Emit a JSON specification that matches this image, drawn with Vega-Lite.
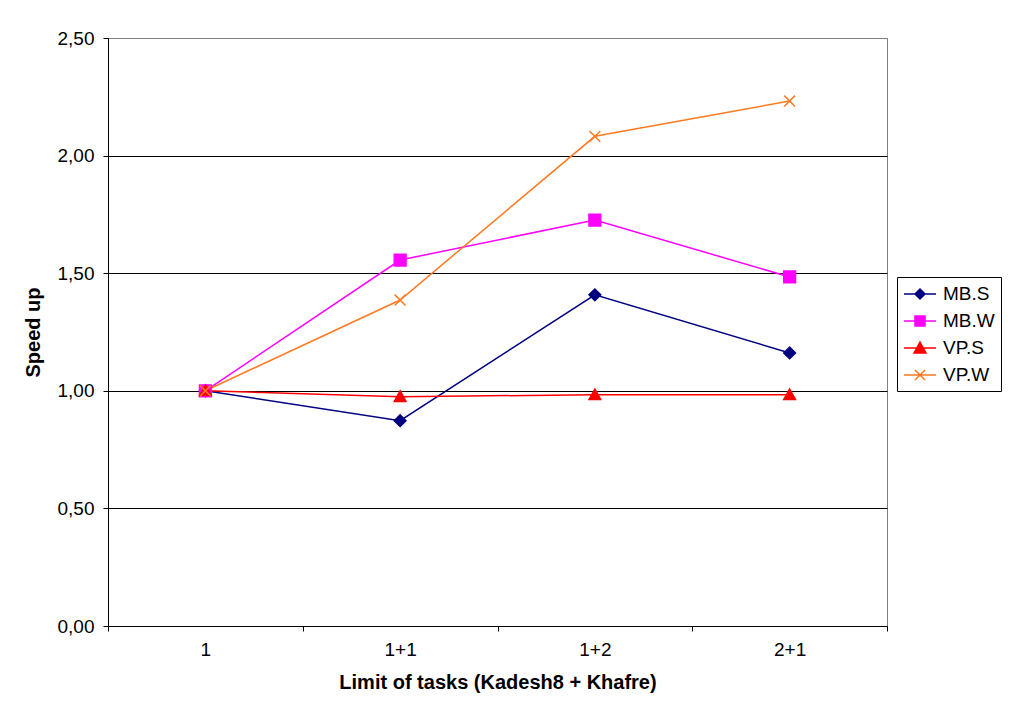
{
  "$schema": "https://vega.github.io/schema/vega-lite/v6.json",
  "autosize": {"type": "none"},
  "width": 779,
  "height": 588,
  "padding": {"left": 108, "top": 38, "right": 130, "bottom": 83},
  "background": "white",
  "config": {
    "font": "Liberation Sans",
    "view": {"stroke": "#808080", "strokeWidth": 1},
    "axis": {"labelFont": "Liberation Sans", "titleFont": "Liberation Sans", "labelColor": "#000", "titleColor": "#000"}
  },
  "data": {
    "values": [
      {"task": "1", "series": "MB.S", "speedup": 1.0},
      {"task": "1+1", "series": "MB.S", "speedup": 0.873},
      {"task": "1+2", "series": "MB.S", "speedup": 1.408},
      {"task": "2+1", "series": "MB.S", "speedup": 1.161},
      {"task": "1", "series": "MB.W", "speedup": 1.0},
      {"task": "1+1", "series": "MB.W", "speedup": 1.556},
      {"task": "1+2", "series": "MB.W", "speedup": 1.726},
      {"task": "2+1", "series": "MB.W", "speedup": 1.484},
      {"task": "1", "series": "VP.S", "speedup": 1.0},
      {"task": "1+1", "series": "VP.S", "speedup": 0.975},
      {"task": "1+2", "series": "VP.S", "speedup": 0.983},
      {"task": "2+1", "series": "VP.S", "speedup": 0.983},
      {"task": "1", "series": "VP.W", "speedup": 1.0},
      {"task": "1+1", "series": "VP.W", "speedup": 1.386},
      {"task": "1+2", "series": "VP.W", "speedup": 2.082},
      {"task": "2+1", "series": "VP.W", "speedup": 2.232}
    ]
  },
  "encoding": {
    "x": {
      "field": "task", "type": "nominal", "sort": ["1", "1+1", "1+2", "2+1"],
      "scale": {"paddingInner": 0, "paddingOuter": 0},
      "axis": {
        "title": "Limit of tasks (Kadesh8 + Khafre)",
        "titleFontSize": 20, "titleFontWeight": "bold", "titlePadding": 13,
        "labelFontSize": 19, "labelAngle": 0, "labelPadding": 9,
        "tickBand": "extent", "tickSize": 5, "tickColor": "#000",
        "domainColor": "#000", "grid": false
      }
    },
    "y": {
      "field": "speedup", "type": "quantitative",
      "scale": {"domain": [0, 2.5], "nice": false},
      "axis": {
        "title": "Speed up",
        "titleFontSize": 20, "titleFontWeight": "bold", "titlePadding": 14,
        "labelFontSize": 19, "labelPadding": 9,
        "values": [0, 0.5, 1, 1.5, 2, 2.5],
        "labelExpr": "replace(format(datum.value, '.2f'), '.', ',')",
        "tickSize": 5, "tickColor": "#000", "domainColor": "#000",
        "grid": true, "gridColor": {"condition": {"test": "datum.value == 2.5", "value": "#808080"}, "value": "#000"}, "gridOpacity": 1, "gridWidth": 1
      }
    },
    "color": {
      "field": "series", "type": "nominal",
      "scale": {"domain": ["MB.S", "MB.W", "VP.S", "VP.W"], "range": ["#000080", "#FF00FF", "#FF0000", "#FF7A22"]},
      "legend": {
        "title": null,
        "orient": "none", "legendX": 789, "legendY": 239,
        "strokeColor": "#000", "fillColor": "white", "padding": 6,
        "labelFontSize": 19, "labelFont": "Liberation Sans", "labelColor": "#000",
        "symbolSize": 400, "symbolOffset": 6, "labelOffset": 12, "rowPadding": 6,
        "symbolStrokeWidth": 1.5,
        "encode": {
          "symbols": {
            "update": {
              "shape": {"signal": "datum.value === 'MB.S' ? 'M-1.6,0H1.6M0,-0.5L0.5,0L0,0.5L-0.5,0Z' : datum.value === 'MB.W' ? 'M-1.6,0H1.6M-0.5,-0.5H0.5V0.5H-0.5Z' : datum.value === 'VP.S' ? 'M-1.6,0H1.6M0,-0.6L0.6,0.5L-0.6,0.5Z' : 'M-1.6,0H1.6M-0.5,-0.5L0.5,0.5M-0.5,0.5L0.5,-0.5'"},
              "fill": {"scale": "color", "field": "value"},
              "stroke": {"scale": "color", "field": "value"},
              "strokeWidth": {"value": 1.5},
              "opacity": {"value": 1}
            }
          }
        }
      }
    }
  },
  "layer": [
    {
      "mark": {"type": "line", "strokeWidth": 1.5}
    },
    {
      "transform": [{"filter": "datum.series === 'MB.S'"}],
      "mark": {"type": "point", "filled": true, "size": 144, "opacity": 1, "strokeWidth": 1.3, "stroke": "#000080", "shape": "M0,-1L1,0L0,1L-1,0Z"}
    },
    {
      "transform": [{"filter": "datum.series === 'MB.W'"}],
      "mark": {"type": "point", "filled": true, "size": 144, "opacity": 1, "strokeWidth": 1.3, "stroke": "#FF00FF", "shape": "M-1,-1H1V1H-1Z"}
    },
    {
      "transform": [{"filter": "datum.series === 'VP.S'"}],
      "mark": {"type": "point", "filled": true, "size": 144, "opacity": 1, "strokeWidth": 1.3, "stroke": "#FF0000", "shape": "M0,-1L1,0.8L-1,0.8Z"}
    },
    {
      "transform": [{"filter": "datum.series === 'VP.W'"}],
      "mark": {"type": "point", "filled": true, "size": 144, "opacity": 1, "strokeWidth": 1.5, "stroke": "#FF7A22", "shape": "M-0.9,-0.9L0.9,0.9M-0.9,0.9L0.9,-0.9"}
    }
  ]
}
